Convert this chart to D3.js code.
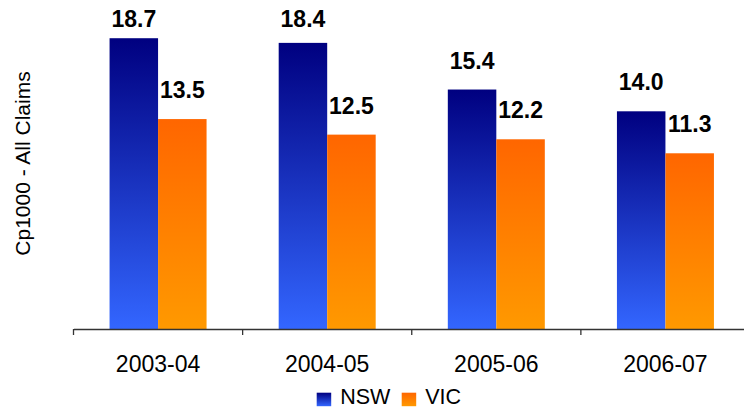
<!DOCTYPE html>
<html>
<head>
<meta charset="utf-8">
<script src="https://cdn.jsdelivr.net/npm/d3@7/dist/d3.min.js"></script>
<style>
  html, body { margin: 0; padding: 0; background: #fff; }
  svg { display: block; font-family: "Liberation Sans", Arial, sans-serif; }
</style>
</head>
<body>
<svg id="chart" width="744" height="409"></svg>
<script>
const categories = ["2003-04", "2004-05", "2005-06", "2006-07"];
const seriesNames = ["NSW", "VIC"];
const nswValues = [18.7, 18.4, 15.4, 14.0];
const vicValues = [13.5, 12.5, 12.2, 11.3];
const yAxisTitle = "Cp1000 - All Claims";

const svg = d3.select("#chart");
const W = 744, H = 409;

const gradients = {
  NSW: ["#000080", "#3366FF"],
  VIC: ["#FF6600", "#FF9900"]
};
const defs = svg.append("defs");
seriesNames.forEach(s => {
  const g = defs.append("linearGradient")
    .attr("id", "grad-" + s)
    .attr("x1", 0).attr("y1", 0).attr("x2", 0).attr("y2", 1);
  g.append("stop").attr("offset", "0%").attr("stop-color", gradients[s][0]);
  g.append("stop").attr("offset", "100%").attr("stop-color", gradients[s][1]);
});

const data = categories.map((c, i) => ({
  cat: c,
  values: [{ s: "NSW", v: nswValues[i] }, { s: "VIC", v: vicValues[i] }]
}));

const x0 = d3.scaleBand().domain(categories).range([73.5, 750]).padding(0);
const groupW = 97;
const x1 = d3.scaleBand().domain(seriesNames).range([0, groupW]).padding(0);
const y = d3.scaleLinear().domain([0, 20]).range([329, 18]);

// bars
const groups = svg.append("g").selectAll("g").data(data).join("g")
  .attr("transform", d => `translate(${x0(d.cat) + (x0.bandwidth() - groupW) / 2},0)`);

groups.selectAll("rect").data(d => d.values).join("rect")
  .attr("x", d => x1(d.s))
  .attr("y", d => y(d.v))
  .attr("width", x1.bandwidth())
  .attr("height", d => y(0) - y(d.v))
  .attr("fill", d => `url(#grad-${d.s})`);

groups.selectAll("text").data(d => d.values).join("text")
  .attr("x", d => x1(d.s) + x1.bandwidth() / 2)
  .attr("y", d => Math.max(y(d.v) - 21, 26.5))
  .attr("text-anchor", "middle")
  .attr("font-weight", "bold")
  .attr("font-size", 23)
  .attr("fill", "#000")
  .text(d => d.v.toFixed(1));

// x axis
const axisG = svg.append("g").attr("transform", `translate(0,${y(0)})`);
axisG.call(d3.axisBottom(x0).tickSize(0).tickSizeOuter(0).tickPadding(0));
axisG.select(".domain").attr("stroke", "#333").attr("stroke-width", 1.3);
axisG.selectAll(".tick text")
  .attr("font-size", 23)
  .attr("font-family", "Liberation Sans, Arial, sans-serif")
  .attr("fill", "#000")
  .attr("dy", null)
  .attr("y", 42.5);
axisG.selectAll(".boundary").data(categories).join("line")
  .attr("class", "boundary")
  .attr("x1", d => x0(d)).attr("x2", d => x0(d))
  .attr("y1", 0).attr("y2", 6)
  .attr("stroke", "#333").attr("stroke-width", 1.3);

// y title
svg.append("text")
  .attr("transform", "translate(29.5,163.5) rotate(-90)")
  .attr("text-anchor", "middle")
  .attr("font-size", 21)
  .attr("fill", "#000")
  .text(yAxisTitle);

// legend
const legendX = [316.7, 401.7];
const legend = svg.append("g").selectAll("g").data(seriesNames).join("g")
  .attr("transform", (d, i) => `translate(${legendX[i]},392.7)`);
legend.append("rect")
  .attr("width", 14.5).attr("height", 13.5)
  .attr("fill", d => `url(#grad-${d})`);
legend.append("text")
  .attr("x", 23.5).attr("y", 11.6)
  .attr("font-size", 21.5)
  .attr("fill", "#000")
  .text(d => d);
</script>
</body>
</html>
